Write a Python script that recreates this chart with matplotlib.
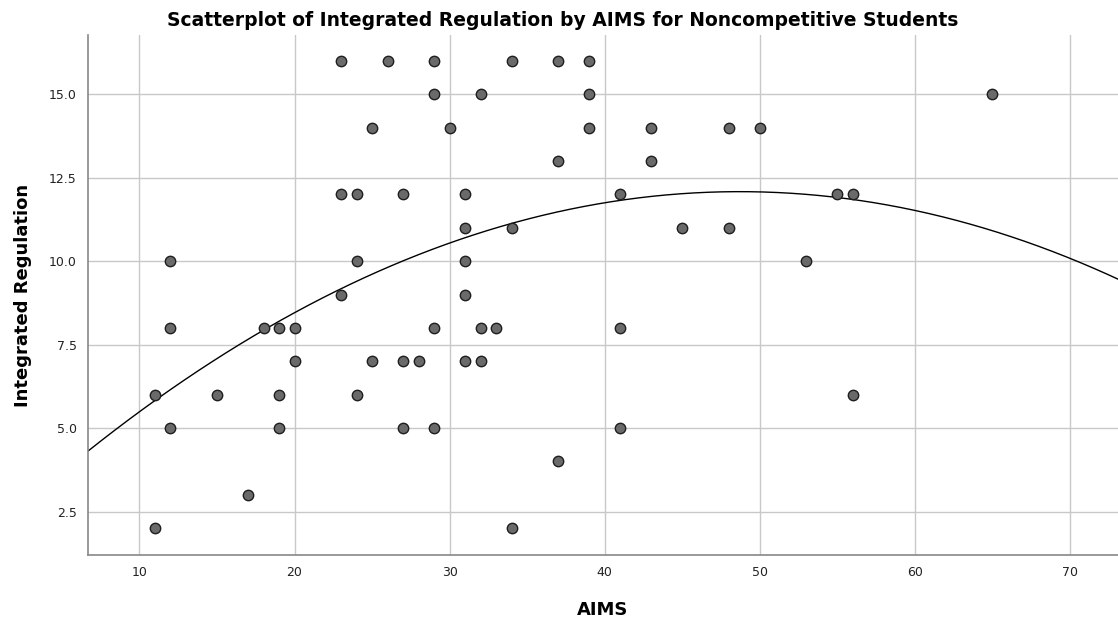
import numpy as np
import matplotlib
matplotlib.use("Agg")
import matplotlib.pyplot as plt

# AIMS scores and integrated regulation
aims = [23, 26, 29, 34, 37, 39,
        29, 32, 39, 65,
        25, 30, 39, 43, 48, 50,
        37, 43,
        23, 24, 27, 31, 41, 55, 56,
        31, 34, 45, 48,
        12, 24, 31, 53,
        23, 31,
        12, 18, 19, 20, 29, 32, 33, 41,
        20, 25, 27, 28, 31, 32,
        11, 15, 19, 24, 56,
        12, 19, 27, 29, 41,
        37,
        17,
        11, 34]
integrated = [16, 16, 16, 16, 16, 16,
              15, 15, 15, 15,
              14, 14, 14, 14, 14, 14,
              13, 13,
              12, 12, 12, 12, 12, 12, 12,
              11, 11, 11, 11,
              10, 10, 10, 10,
              9, 9,
              8, 8, 8, 8, 8, 8, 8, 8,
              7, 7, 7, 7, 7, 7,
              6, 6, 6, 6, 6,
              5, 5, 5, 5, 5,
              4,
              3,
              2, 2]

# quadratic fit line as drawn in the reference (vertex form)
fit_vertex_x = 48.7
fit_vertex_y = 12.08
fit_curvature = -0.0044

x_ticks = [10, 20, 30, 40, 50, 60, 70]
y_ticks = [2.5, 5.0, 7.5, 10.0, 12.5, 15.0]

plt.rcParams['font.family'] = ['DejaVu Sans']

fig = plt.figure(figsize=(11.18, 6.22), dpi=100)
ax = fig.add_axes([0.0787, 0.1077, 0.9213, 0.836])

ax.grid(True, color='#c8c8c8', linewidth=1)
ax.set_axisbelow(True)

xmin, xmax = 6.68, 73.1
xs = np.linspace(xmin, xmax, 300)
ax.plot(xs, fit_vertex_y + fit_curvature * (xs - fit_vertex_x) ** 2,
        color='black', linewidth=1, zorder=2)

ax.scatter(aims, integrated, s=56, facecolor='#6a6a6a', edgecolor='#1e1e1e',
           linewidth=1, zorder=3)

ax.set_xlim(xmin, xmax)
ax.set_ylim(1.2, 16.77)
ax.set_xticks(x_ticks)
ax.set_yticks(y_ticks)
ax.set_yticklabels([f"{v:.1f}" for v in y_ticks])
ax.tick_params(length=0, labelsize=9, colors='#222222', pad=8)

for side in ['top', 'right']:
    ax.spines[side].set_visible(False)
for side in ['left', 'bottom']:
    ax.spines[side].set_color('#888888')
    ax.spines[side].set_linewidth(1.2)

ax.set_xlabel('AIMS', fontsize=13, fontweight='bold', labelpad=16)
ax.set_ylabel('Integrated Regulation', fontsize=13, fontweight='bold', labelpad=12)
fig.suptitle('Scatterplot of Integrated Regulation by AIMS for Noncompetitive Students',
             fontsize=13.5, fontweight='bold', x=0.503, y=0.982, va='top')

fig.savefig('out.png', dpi=100)
